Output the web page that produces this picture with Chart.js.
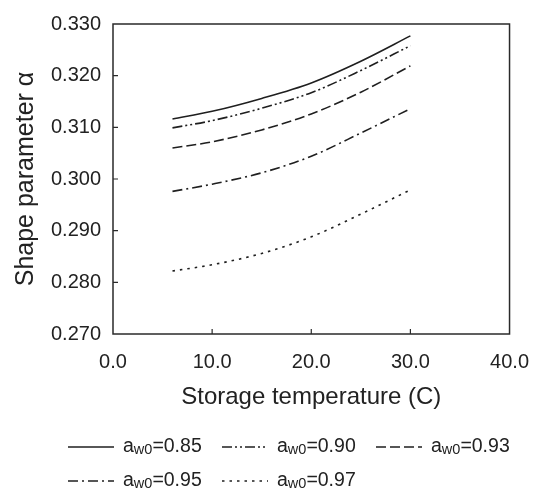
<!DOCTYPE html>
<html>
<head>
<meta charset="utf-8">
<script src="https://cdn.jsdelivr.net/npm/chart.js@4/dist/chart.umd.min.js"></script>
<style>
    html, body { margin: 0; padding: 0; background: #fff; }
    #wrap { width: 545px; height: 494px; }
</style>
</head>
<body>
<div id="wrap"><canvas id="alphaChart" width="545" height="494"></canvas></div>
<script>
// Storage temperatures (C) and shape parameter values for each initial water activity
const temps = [6, 10, 15, 20, 25, 30];
const alpha085 = [0.3116, 0.3131, 0.3156, 0.3186, 0.3228, 0.3277];
const alpha090 = [0.3099, 0.3113, 0.3137, 0.3167, 0.3210, 0.3258];
const alpha093 = [0.3060, 0.3072, 0.3095, 0.3126, 0.3168, 0.3219];
const alpha095 = [0.2976, 0.2990, 0.3012, 0.3044, 0.3089, 0.3136];
const alpha097 = [0.2822, 0.2834, 0.2856, 0.2888, 0.2932, 0.2979];

const seriesNames = ['0.85', '0.90', '0.93', '0.95', '0.97'];
const xTicks = [0, 10, 20, 30, 40];
const yTicks = [0.27, 0.28, 0.29, 0.30, 0.31, 0.32, 0.33];

const ink = '#1f1f1f';
const fontFamily = '"Liberation Sans", Arial, sans-serif';
const dashes = [[], [10, 3, 2, 3, 2, 3], [10, 4], [10, 4, 2, 4], [2.5, 5]];
const allSeries = [alpha085, alpha090, alpha093, alpha095, alpha097];

function toPoints(values) {
    return temps.map((t, i) => ({ x: t, y: values[i] }));
}

// Box around the plot with inward tick marks, plus the legend with subscripts
const framePlugin = {
    id: 'frame',
    afterDraw(chart) {
        const ctx = chart.ctx;
        const area = chart.chartArea;
        const xs = chart.scales.x;
        const ys = chart.scales.y;
        ctx.save();
        ctx.strokeStyle = '#2a2a2a';
        ctx.lineWidth = 1.5;
        ctx.strokeRect(area.left, area.top, area.right - area.left, area.bottom - area.top);
        ctx.lineWidth = 1.2;
        ctx.beginPath();
        xTicks.slice(1, -1).forEach(v => {
            const px = xs.getPixelForValue(v);
            ctx.moveTo(px, area.bottom);
            ctx.lineTo(px, area.bottom - 5);
        });
        yTicks.slice(1, -1).forEach(v => {
            const py = ys.getPixelForValue(v);
            ctx.moveTo(area.left, py);
            ctx.lineTo(area.left + 5, py);
        });
        ctx.stroke();

        // legend
        const cols = [68, 222, 376];
        const rows = [447, 481];
        seriesNames.forEach((name, i) => {
            const lx = cols[i % 3];
            const ly = rows[Math.floor(i / 3)];
            ctx.strokeStyle = ink;
            ctx.lineWidth = 1.6;
            ctx.setLineDash(dashes[i]);
            ctx.beginPath();
            ctx.moveTo(lx, ly);
            ctx.lineTo(lx + 46, ly);
            ctx.stroke();
            ctx.setLineDash([]);

            ctx.fillStyle = '#222';
            ctx.textBaseline = 'alphabetic';
            ctx.textAlign = 'left';
            let tx = lx + 55;
            const base = ly + 5;
            ctx.font = '19.5px ' + fontFamily;
            ctx.fillText('a', tx, base);
            tx += ctx.measureText('a').width;
            ctx.font = '14.5px ' + fontFamily;
            ctx.fillText('w0', tx, base + 1.5);
            tx += ctx.measureText('w0').width;
            ctx.font = '19.5px ' + fontFamily;
            ctx.fillText('=' + name, tx, base);
        });
        ctx.restore();
    }
};

const datasets = allSeries.map((values, i) => ({
    label: 'aw0=' + seriesNames[i],
    data: toPoints(values),
    borderColor: ink,
    borderWidth: 1.6,
    borderDash: dashes[i],
    pointRadius: 0,
    fill: false,
    cubicInterpolationMode: 'monotone'
}));

const ctx = document.getElementById('alphaChart').getContext('2d');
new Chart(ctx, {
    type: 'line',
    data: { datasets: datasets },
    options: {
        responsive: false,
        animation: false,
        layout: { padding: { left: 0, top: 16, right: 29, bottom: 80 } },
        plugins: {
            legend: { display: false },
            tooltip: { enabled: false }
        },
        scales: {
            x: {
                type: 'linear',
                min: 0,
                max: 40,
                afterBuildTicks: scale => { scale.ticks = xTicks.map(v => ({ value: v })); },
                afterFit: scale => { scale.height = 80; },
                grid: { display: false, drawTicks: false },
                border: { display: false },
                ticks: {
                    padding: 16,
                    color: '#222',
                    font: { family: fontFamily, size: 20 },
                    callback: v => Number(v).toFixed(1)
                },
                title: {
                    display: true,
                    text: 'Storage temperature (C)',
                    color: '#222',
                    padding: { top: 0, bottom: 2 },
                    font: { family: fontFamily, size: 24 }
                }
            },
            y: {
                min: 0.27,
                max: 0.33,
                afterBuildTicks: scale => { scale.ticks = yTicks.map(v => ({ value: v })); },
                afterFit: scale => { scale.width = 113; },
                grid: { display: false, drawTicks: false },
                border: { display: false },
                ticks: {
                    padding: 12,
                    color: '#222',
                    font: { family: fontFamily, size: 20 },
                    callback: v => Number(v).toFixed(3)
                },
                title: {
                    display: true,
                    text: 'Shape parameter α',
                    color: '#222',
                    padding: { top: 11, bottom: 0 },
                    font: { family: fontFamily, size: 25 }
                }
            }
        }
    },
    plugins: [framePlugin]
});
</script>
</body>
</html>
